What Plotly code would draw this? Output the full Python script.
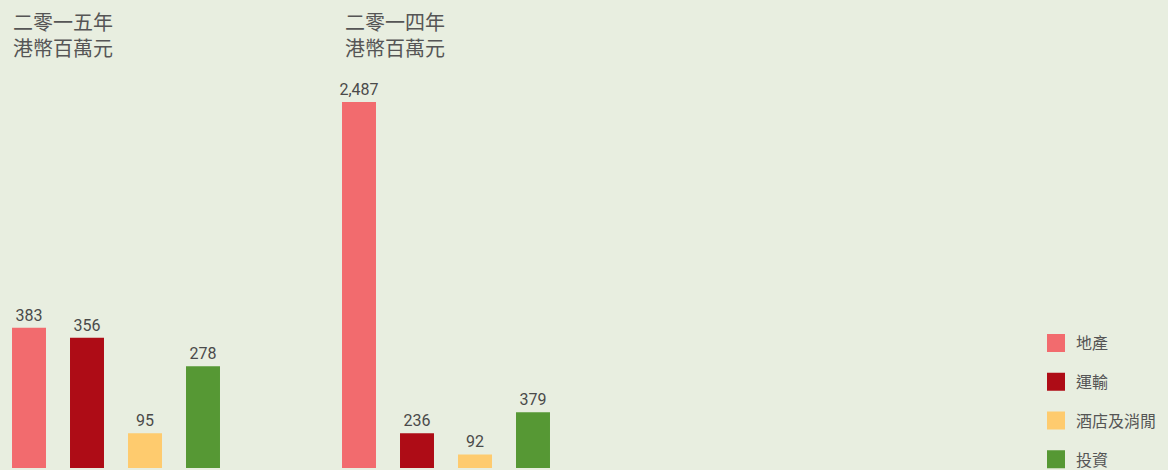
import plotly.graph_objects as go

W, H = 1168, 470

categories = ["地產", "運輸", "酒店及消閒", "投資"]
colors = ["#F26B6E", "#AE0C16", "#FECB6E", "#569834"]
values_2015 = [383, 356, 95, 278]
values_2014 = [2487, 236, 92, 379]
titles = ["二零一五年<br>港幣百萬元", "二零一四年<br>港幣百萬元"]
y_max = [1000, 2487]

def px_x(p):
    return p / W

def px_y(p):
    return 1 - p / H

fig = go.Figure()
xs = list(range(len(categories)))
for i, vals in enumerate([values_2015, values_2014]):
    sfx = "" if i == 0 else str(i + 1)
    fig.add_trace(go.Bar(
        x=xs, y=vals, width=0.586,
        marker=dict(color=colors, line=dict(width=0)),
        text=[f"{v:,}" for v in vals], textposition="outside", constraintext="none",
        textfont=dict(family="Roboto", size=16, color="#4a4a4a"),
        cliponaxis=False, showlegend=False, hoverinfo="skip",
        xaxis="x" + sfx, yaxis="y" + sfx,
    ))

for name, c in zip(categories, colors):
    fig.add_trace(go.Scatter(
        x=[None], y=[None], mode="markers", name=name, legendgroup=name,
        marker=dict(symbol="square", size=16, color=c, line=dict(color=c, width=2)),
        xaxis="x", yaxis="y",
    ))

annotations = []
for x0, t in zip([11, 343], titles):
    annotations.append(dict(
        text=t, x=px_x(x0), y=px_y(5), xref="paper", yref="paper",
        xanchor="left", yanchor="top", align="left", showarrow=False,
        font=dict(family="Noto Sans CJK TC", size=20, color="#555555")))

ydom = [px_y(468), px_y(102)]
ax = dict(showgrid=False, zeroline=False, showline=False, showticklabels=False, ticks="")
fig.update_layout(
    width=W, height=H, autosize=False,
    margin=dict(l=0, r=0, t=0, b=0, autoexpand=False),
    paper_bgcolor="#E8EEE0", plot_bgcolor="#E8EEE0",
    xaxis=dict(domain=[px_x(0), px_x(232)], range=[-0.5, 3.5], anchor="y", **ax),
    yaxis=dict(domain=ydom, range=[0, y_max[0]], anchor="x", **ax),
    xaxis2=dict(domain=[px_x(330), px_x(562)], range=[-0.5, 3.5], anchor="y2", **ax),
    yaxis2=dict(domain=ydom, range=[0, y_max[1]], anchor="x2", **ax),
    showlegend=True,
    legend=dict(x=px_x(1036), xanchor="left", y=px_y(326), yanchor="top",
                font=dict(family="Noto Sans CJK TC", size=16, color="#555555"),
                tracegroupgap=15, bgcolor="rgba(0,0,0,0)", itemclick=False),
    annotations=annotations,
)

post = """
var s = document.createElement('style');
s.textContent = 'html,body{margin:0;padding:0;overflow:hidden;background:#E8EEE0;}';
document.head.appendChild(s);
"""

fig.write_html(
    "out.html",
    config={"displayModeBar": False, "responsive": False},
    post_script=post,
)
